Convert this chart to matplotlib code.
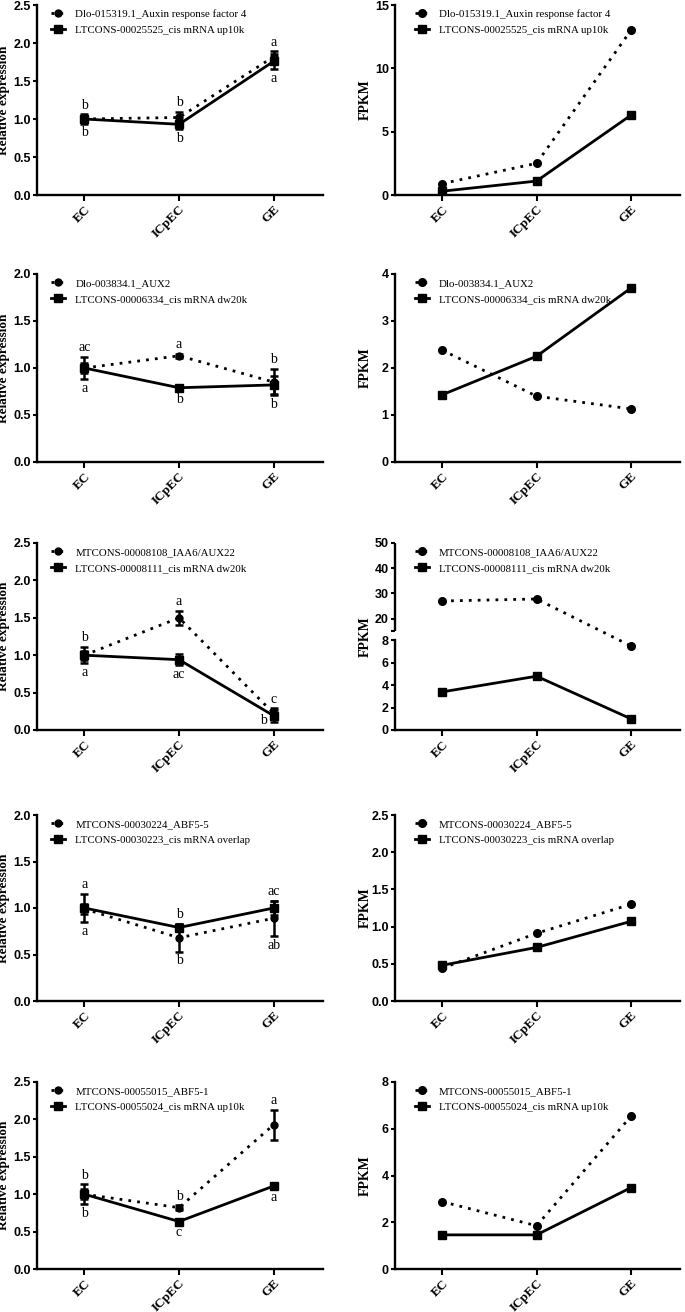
import matplotlib
matplotlib.use('Agg')
import matplotlib.pyplot as plt
import numpy as np

# groups on the x axis
groups = ['EC', 'ICpEC', 'GE']

# row 1
gene1_name = 'Dlo-015319.1_Auxin response factor 4'
lnc1_name = 'LTCONS-00025525_cis mRNA up10k'
gene1_rel = [1.0, 1.02, 1.82]
gene1_err = [0.04, 0.07, 0.07]
lnc1_rel = [1.0, 0.93, 1.76]
lnc1_err = [0.06, 0.06, 0.10]
gene1_top = ['b', 'b', 'a']
lnc1_bot = ['b', 'b', 'a']
gene1_fpkm = [0.9, 2.5, 13.0]
lnc1_fpkm = [0.3, 1.1, 6.3]

# row 2
gene2_name = 'Dlo-003834.1_AUX2'
lnc2_name = 'LTCONS-00006334_cis mRNA dw20k'
gene2_rel = [1.0, 1.13, 0.85]
gene2_err = [0.05, 0.02, 0.14]
lnc2_rel = [1.0, 0.79, 0.82]
lnc2_err = [0.12, 0.03, 0.10]
gene2_top = ['ac', 'a', 'b']
lnc2_bot = ['a', 'b', 'b']
gene2_fpkm = [2.38, 1.40, 1.13]
lnc2_fpkm = [1.43, 2.25, 3.70]

# row 3
gene3_name = 'MTCONS-00008108_IAA6/AUX22'
lnc3_name = 'LTCONS-00008111_cis mRNA dw20k'
gene3_rel = [1.0, 1.50, 0.22]
gene3_err = [0.06, 0.09, 0.07]
lnc3_rel = [1.0, 0.94, 0.19]
lnc3_err = [0.11, 0.07, 0.08]
gene3_top = ['b', 'a', 'c']
lnc3_bot = ['a', 'ac', 'b']
gene3_fpkm = [27.0, 27.8, 7.5]
lnc3_fpkm = [3.4, 4.8, 1.0]

# row 4
gene4_name = 'MTCONS-00030224_ABF5-5'
lnc4_name = 'LTCONS-00030223_cis mRNA overlap'
gene4_rel = [0.99, 0.68, 0.89]
gene4_err = [0.05, 0.15, 0.19]
lnc4_rel = [1.0, 0.79, 1.0]
lnc4_err = [0.15, 0.04, 0.08]
gene4_top = ['a', 'b', 'ac']
lnc4_bot = ['a', 'b', 'ab']
gene4_fpkm = [0.44, 0.91, 1.30]
lnc4_fpkm = [0.48, 0.72, 1.07]

# row 5
gene5_name = 'MTCONS-00055015_ABF5-1'
lnc5_name = 'LTCONS-00055024_cis mRNA up10k'
gene5_rel = [1.0, 0.82, 1.93]
gene5_err = [0.07, 0.03, 0.20]
lnc5_rel = [1.0, 0.635, 1.11]
lnc5_err = [0.13, 0.02, 0.03]
gene5_top = ['b', 'b', 'a']
lnc5_bot = ['b', 'c', 'a']
gene5_fpkm = [2.88, 1.85, 6.53]
lnc5_fpkm = [1.46, 1.46, 3.48]

rel_ymax = [2.5, 2.0, 2.5, 2.0, 2.5]
fpkm_ticks = [[0, 5, 10, 15], [0, 1, 2, 3, 4], [0, 2, 4, 6, 8, 15, 20, 30, 40, 50],
              [0, 0.5, 1.0, 1.5, 2.0, 2.5], [0, 2, 4, 6, 8]]

rows = [
    (gene1_name, lnc1_name, gene1_rel, gene1_err, lnc1_rel, lnc1_err, gene1_top, lnc1_bot, gene1_fpkm, lnc1_fpkm),
    (gene2_name, lnc2_name, gene2_rel, gene2_err, lnc2_rel, lnc2_err, gene2_top, lnc2_bot, gene2_fpkm, lnc2_fpkm),
    (gene3_name, lnc3_name, gene3_rel, gene3_err, lnc3_rel, lnc3_err, gene3_top, lnc3_bot, gene3_fpkm, lnc3_fpkm),
    (gene4_name, lnc4_name, gene4_rel, gene4_err, lnc4_rel, lnc4_err, gene4_top, lnc4_bot, gene4_fpkm, lnc4_fpkm),
    (gene5_name, lnc5_name, gene5_rel, gene5_err, lnc5_rel, lnc5_err, gene5_top, lnc5_bot, gene5_fpkm, lnc5_fpkm),
]

# pixel layout of each row (top, bottom) in the 685x1312 picture
row_px = [(5, 195), (274, 462), (543, 730), (815, 1001), (1082, 1269)]

W, H = 685, 1312
serif = 'Liberation Serif'
sans = 'Liberation Sans'
dotted = (0, (1, 2.2))
lw = 2.0


def brk_fwd(y):
    y = np.asarray(y, dtype=float)
    return np.where(y <= 8, y, np.where(y <= 15, 8 + (y - 8) * 0.116, 8.81 + (y - 15) * 0.225))


def brk_inv(v):
    v = np.asarray(v, dtype=float)
    return np.where(v <= 8, v, np.where(v <= 8.81, 8 + (v - 8) / 0.116, 15 + (v - 8.81) / 0.225))


def style_axes(ax):
    for s in ['top', 'right']:
        ax.spines[s].set_visible(False)
    for s in ['left', 'bottom']:
        ax.spines[s].set_linewidth(1.7)
    ax.tick_params(axis='y', width=1.5, length=3, pad=1.5, direction='out')
    ax.tick_params(axis='x', width=1.5, length=4, pad=2, direction='out')
    ax.set_xlim(-0.5, 2.52)
    ax.set_xticks(range(len(groups)))
    ax.set_xticklabels(groups, rotation=45, ha='right', rotation_mode='anchor',
                       fontfamily=serif, fontweight='bold', fontsize=9.5)
    for lab in ax.get_yticklabels():
        lab.set_fontfamily(sans)
        lab.set_fontweight('bold')
        lab.set_fontsize(9)


def add_legend(ax, x0):
    ax.legend(loc='upper left', bbox_to_anchor=(x0, 1.0), frameon=False,
              prop={'family': serif, 'size': 7.8}, handlelength=1.3,
              handletextpad=0.9, labelspacing=0.6, borderaxespad=0)


fig = plt.figure(figsize=(W / 100, H / 100), dpi=100)

for i, row in enumerate(rows):
    gname, lname, grel, gerr, lrel, lerr, gtop, lbot, gfp, lfp = row
    top, bot = row_px[i]
    y0 = 1 - bot / H
    h = (bot - top) / H
    x = np.arange(len(groups))
    ymax = rel_ymax[i]

    # relative expression panel
    ax = fig.add_axes([37 / W, y0, 286 / W, h])
    ax.errorbar(x, grel, yerr=gerr, fmt='none', ecolor='black', capsize=3,
                elinewidth=1.8, capthick=1.8)
    ax.errorbar(x, lrel, yerr=lerr, fmt='none', ecolor='black', capsize=3,
                elinewidth=1.8, capthick=1.8)
    ax.plot(x, grel, color='black', linestyle=dotted, lw=lw, marker='o', markersize=5, label=gname)
    ax.plot(x, lrel, color='black', linestyle='-', lw=lw, marker='s', markersize=5.5, label=lname)
    ax.set_ylim(0, ymax)
    yt = np.arange(0, ymax + 0.01, 0.5)
    ax.set_yticks(yt)
    ax.set_yticklabels(['%.1f' % v for v in yt])
    ax.set_ylabel('Relative expression', fontfamily=serif, fontweight='bold', fontsize=9.5)
    ax.yaxis.set_label_coords(-0.093, 0.5)
    style_axes(ax)
    add_legend(ax, 0.035)
    hi = np.maximum(np.array(grel) + gerr, np.array(lrel) + lerr)
    lo = np.minimum(np.array(grel) - gerr, np.array(lrel) - lerr)
    for j in range(len(groups)):
        ax.annotate(gtop[j], (x[j], hi[j]), xytext=(0, 2), textcoords='offset points',
                    ha='center', va='bottom', fontfamily=serif, fontsize=10)
        if lo[j] < 0.12 * ymax:
            # no room below the bar: put the letter to its left
            ax.annotate(lbot[j], (x[j], 0), xytext=(-5, 2), textcoords='offset points',
                        ha='right', va='bottom', fontfamily=serif, fontsize=10)
        else:
            ax.annotate(lbot[j], (x[j], lo[j]), xytext=(0, -2), textcoords='offset points',
                        ha='center', va='top', fontfamily=serif, fontsize=10)

    # FPKM panel
    ax2 = fig.add_axes([395 / W, y0, 285 / W, h])
    ax2.plot(x, gfp, color='black', linestyle=dotted, lw=lw, marker='o', markersize=5.5, label=gname)
    ax2.plot(x, lfp, color='black', linestyle='-', lw=lw, marker='s', markersize=6, label=lname)
    ticks = fpkm_ticks[i]
    if i == 2:
        ax2.set_yscale('function', functions=(brk_fwd, brk_inv))
        ax2.set_ylim(0, 50)
        ax2.set_yticks(ticks)
        ax2.set_yticklabels(['' if t == 15 else str(t) for t in ticks])
        ax2.spines['left'].set_bounds(0, 8)
        ax2.plot([0, 0], [15, 50], color='black', lw=1.7, clip_on=False,
                 transform=ax2.get_yaxis_transform(), solid_capstyle='butt')
    else:
        ax2.set_ylim(ticks[0], ticks[-1])
        ax2.set_yticks(ticks)
        if i == 3:
            ax2.set_yticklabels(['%.1f' % t for t in ticks])
        else:
            ax2.set_yticklabels([str(t) for t in ticks])
    ax2.set_ylabel('FPKM', fontfamily=serif, fontweight='bold', fontsize=10)
    ax2.yaxis.set_label_coords(-0.08, 0.5)
    style_axes(ax2)
    add_legend(ax2, 0.055)

plt.savefig('out.png', dpi=100)
